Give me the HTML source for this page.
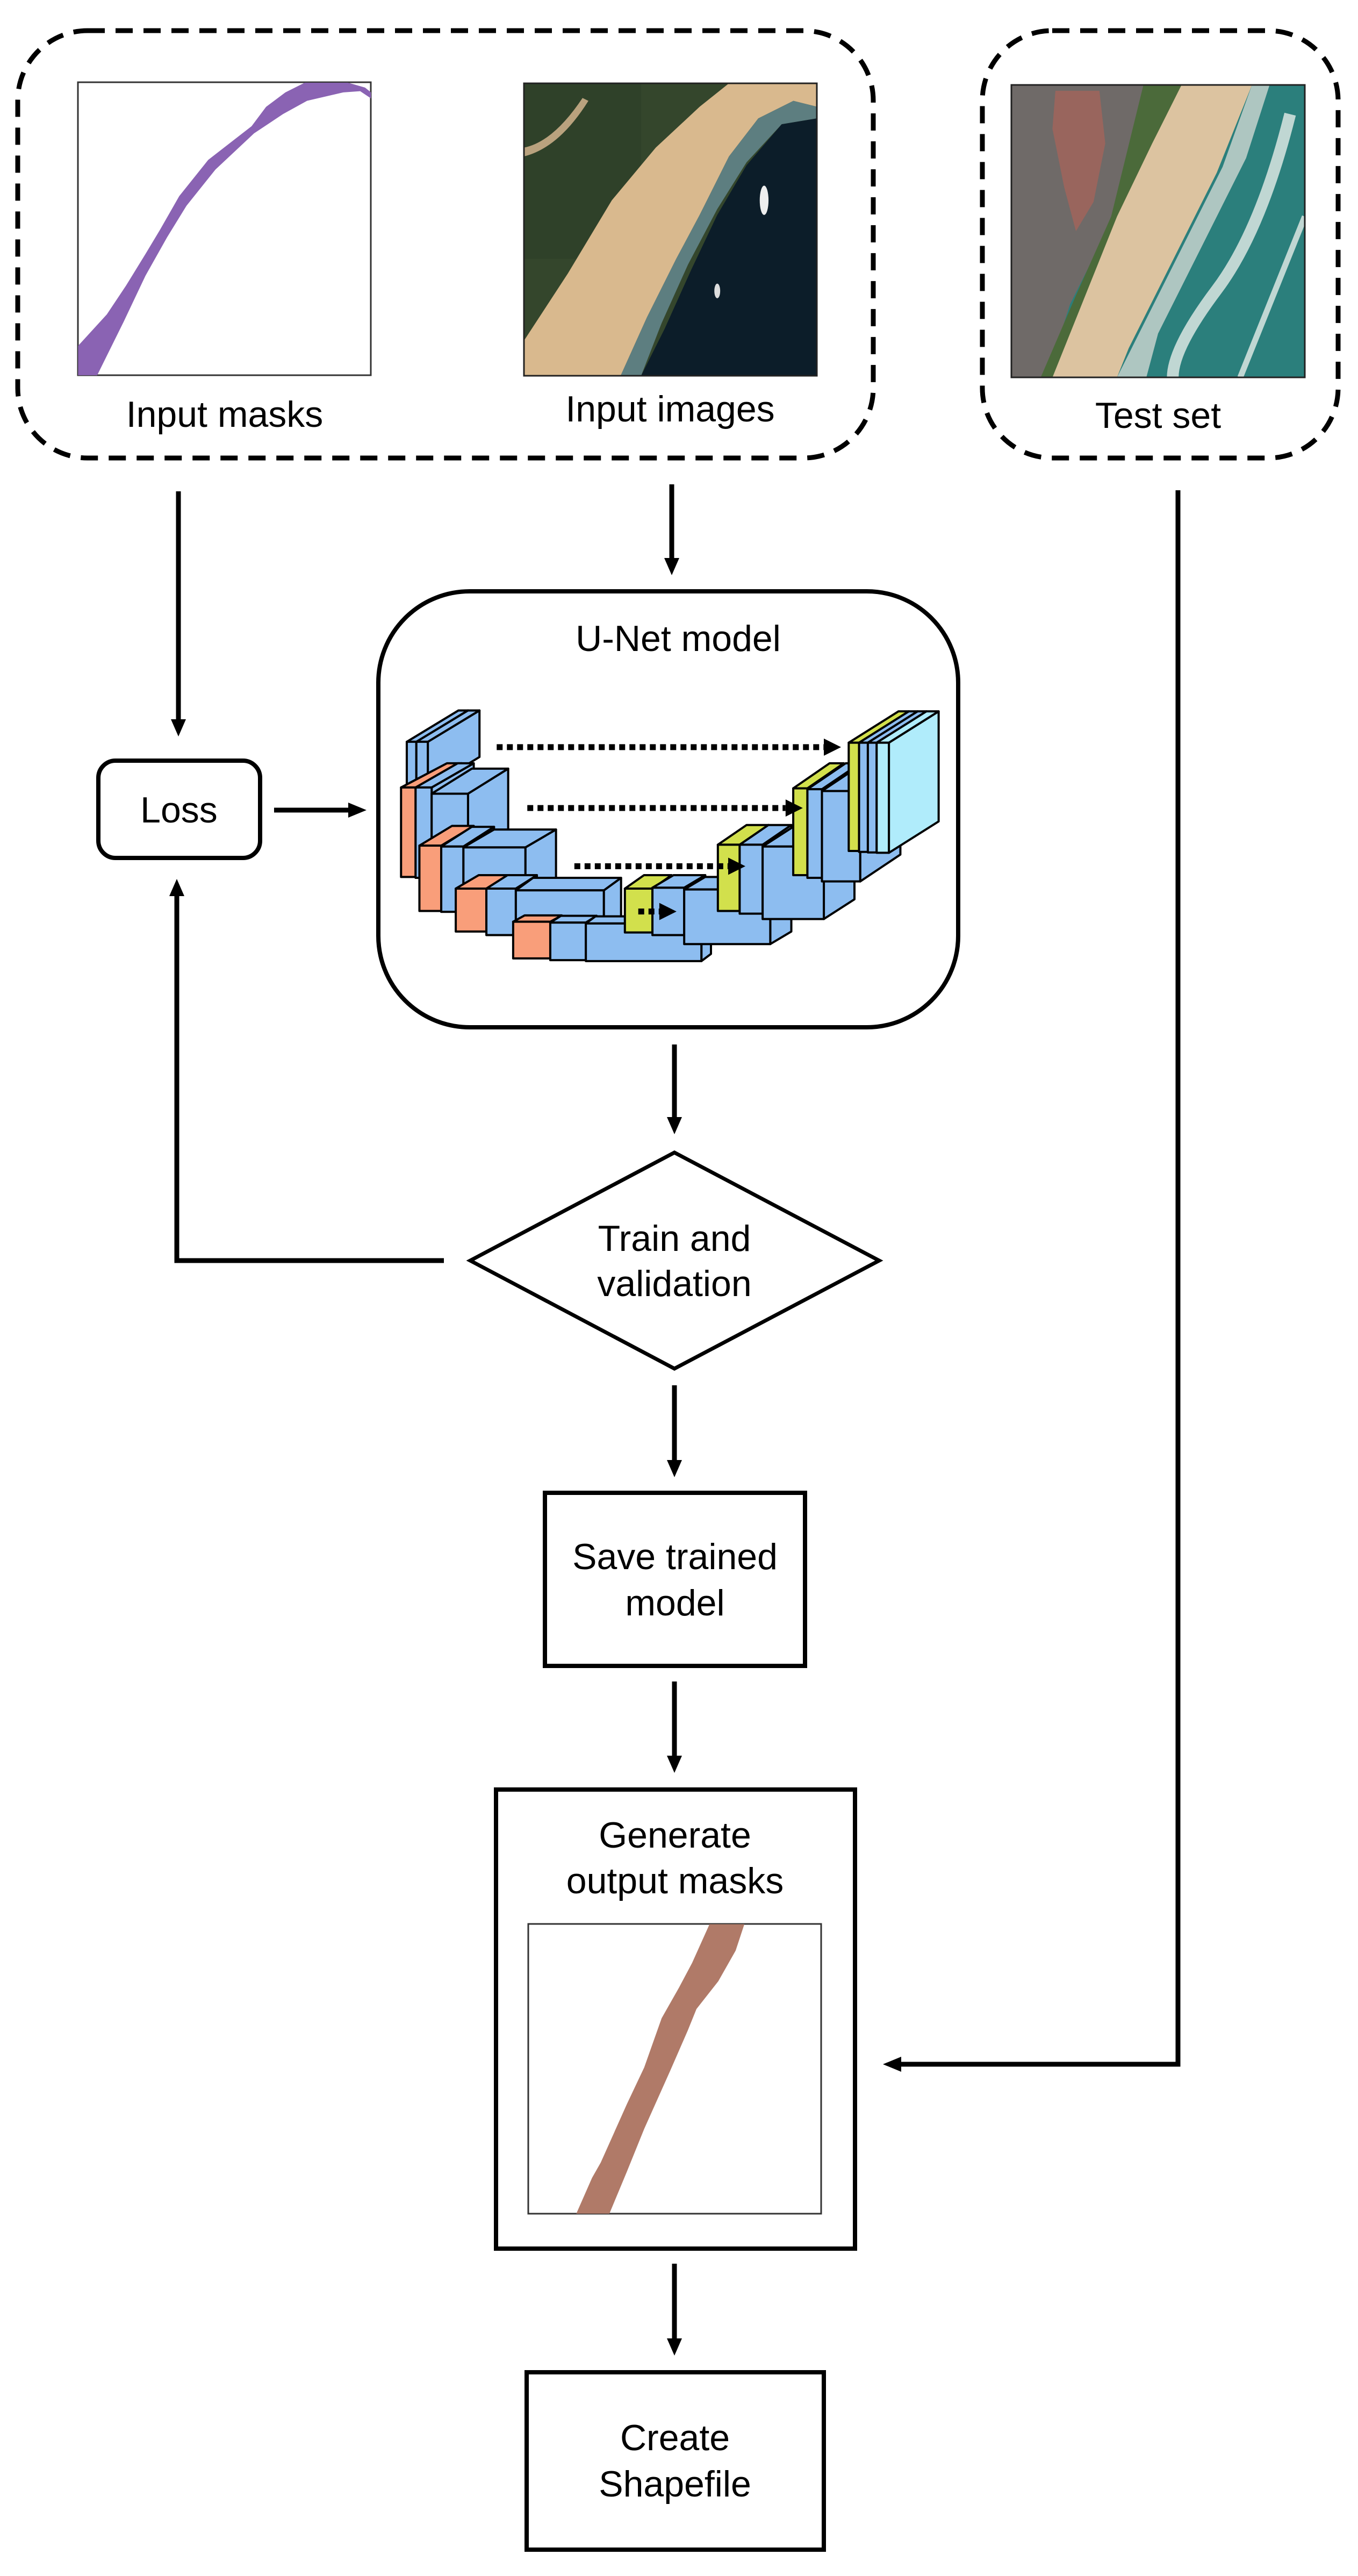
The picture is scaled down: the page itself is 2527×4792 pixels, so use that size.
<!DOCTYPE html>
<html><head><meta charset="utf-8"><style>
html,body{margin:0;padding:0;background:#fff}
svg{display:block}
text{font-family:"Liberation Sans",sans-serif;font-size:68px;fill:#000;text-anchor:middle}
</style></head><body>
<svg id="s" width="2527" height="4792" viewBox="0 0 2527 4792" xmlns="http://www.w3.org/2000/svg">
<defs>
<marker id="ah" markerWidth="10" markerHeight="10" refX="0" refY="5" orient="auto" markerUnits="userSpaceOnUse" viewBox="0 0 10 10"></marker>
</defs>
<!-- dashed groups -->
<rect x="33" y="57" width="1592" height="795" rx="130" fill="none" stroke="#000" stroke-width="9" stroke-dasharray="32 20"/>
<rect x="1828" y="57" width="662" height="795" rx="130" fill="none" stroke="#000" stroke-width="9" stroke-dasharray="32 20"/>

<!-- input mask -->
<rect x="145" y="153" width="545" height="545" fill="#fff" stroke="#333" stroke-width="3"/>
<g transform="translate(100,100) scale(0.449)">
<polygon fill="#8a63b3" points="101,1210 220,1080 300,960 380,830 440,730 520,590 640,440 820,300 880,220 960,160 1040,120 1220,120 1290,140 1315,160 1315,185 1270,155 1200,160 1050,195 950,250 830,330 670,480 550,630 470,760 380,920 290,1110 180,1332 101,1332"/>
</g>

<!-- input image -->
<svg x="975" y="155" width="545" height="544" viewBox="0 0 100 100" preserveAspectRatio="none">
<rect width="100" height="100" fill="#34462c"/>
<rect x="0" y="0" width="40" height="60" fill="#2e3f28" opacity=".7"/>
<path d="M0,22 Q10,20 20,5 L22,6 Q12,22 0,25Z" fill="#b9a27e"/>
<polygon fill="#d9b98e" points="70,0 100,0 100,8 92,6 80,12 70,25 60,45 52,60 42,80 33,100 0,100 0,88 15,65 30,40 45,22 60,8"/>
<polygon fill="#5d7e80" points="100,8 92,6 80,12 70,25 60,45 52,60 42,80 33,100 40,100 47,82 56,62 66,43 76,27 88,14 100,12"/>
<polygon fill="#0c1d29" points="100,12 88,14 76,28 66,45 57,64 48,84 40,100 100,100"/>
<ellipse cx="82" cy="40" rx="1.5" ry="5" fill="#eee"/>
<ellipse cx="66" cy="71" rx="1" ry="2.5" fill="#ddd"/>
</svg>
<rect x="975" y="155" width="545" height="544" fill="none" stroke="#222" stroke-width="3"/>

<!-- test image -->
<svg x="1882" y="158" width="546" height="544" viewBox="0 0 100 100" preserveAspectRatio="none">
<rect width="100" height="100" fill="#2b7f7c"/>
<polygon fill="#6f6a68" points="0,0 45,0 40,30 30,55 20,75 12,100 0,100"/>
<polygon fill="#a4645a" opacity=".8" points="15,2 30,2 32,20 28,40 22,50 18,35 14,15"/>
<polygon fill="#4b6a3a" points="45,0 58,0 45,35 32,70 20,100 10,100 22,72 34,45"/>
<polygon fill="#dcc3a0" points="58,0 82,0 70,30 55,60 40,90 36,100 14,100 24,75 36,45 48,20"/>
<polygon fill="#cfd8d2" opacity=".8" points="82,0 88,0 80,25 65,55 50,85 46,100 36,100 42,88 56,60 72,28"/>
<path d="M95,10 Q85,50 70,70 T55,100" stroke="#e6eee9" stroke-width="4" fill="none" opacity=".8"/>
<path d="M100,45 Q88,75 78,100" stroke="#e6eee9" stroke-width="2" fill="none" opacity=".8"/>
</svg>
<rect x="1882" y="158" width="546" height="544" fill="none" stroke="#222" stroke-width="3"/>

<text x="418" y="794">Input masks</text>
<text x="1247" y="784">Input images</text>
<text x="2155" y="796">Test set</text>

<g stroke="#000" stroke-width="9" fill="none">
<line x1="332" y1="914" x2="332" y2="1340"/>
<line x1="1250" y1="901" x2="1250" y2="1040"/>
<line x1="510" y1="1507" x2="650" y2="1507"/>
<line x1="1255" y1="1943" x2="1255" y2="2080"/>
<polyline points="826,2345 329,2345 329,1665"/>
<line x1="1255" y1="2577" x2="1255" y2="2718"/>
<line x1="1255" y1="3128" x2="1255" y2="3268"/>
<polyline points="2192,912 2192,3840 1675,3840"/>
<line x1="1255" y1="4211" x2="1255" y2="4352"/>
</g>
<g fill="#000">
<polygon points="318,1338 346,1338 332,1370"/>
<polygon points="1236,1038 1264,1038 1250,1070"/>
<polygon points="648,1493 648,1521 682,1507"/>
<polygon points="1241,2078 1269,2078 1255,2110"/>
<polygon points="315,1667 343,1667 329,1635"/>
<polygon points="1241,2716 1269,2716 1255,2748"/>
<polygon points="1241,3266 1269,3266 1255,3298"/>
<polygon points="1677,3826 1677,3854 1643,3840"/>
<polygon points="1241,4350 1269,4350 1255,4382"/>
</g>

<!-- Loss -->
<rect x="183" y="1415" width="301" height="181" rx="32" fill="#fff" stroke="#000" stroke-width="8"/>
<text x="333" y="1530">Loss</text>

<!-- UNet box -->
<rect x="704" y="1100" width="1079" height="811" rx="170" fill="#fff" stroke="#000" stroke-width="8"/>
<text x="1262" y="1211">U-Net model</text>
<g id="unet" stroke="#000" stroke-width="4" stroke-linejoin="round"></g>

<!-- diamond -->
<polygon points="1255,2144 1636,2345 1255,2546 875,2345" fill="#fff" stroke="#000" stroke-width="7"/>
<text x="1255" y="2327">Train and</text>
<text x="1255" y="2411">validation</text>

<!-- save -->
<rect x="1014" y="2777" width="484" height="322" fill="#fff" stroke="#000" stroke-width="8"/>
<text x="1256" y="2919">Save trained</text>
<text x="1256" y="3005">model</text>

<!-- generate -->
<rect x="923" y="3329" width="668" height="854" fill="#fff" stroke="#000" stroke-width="8"/>
<text x="1256" y="3437">Generate</text>
<text x="1256" y="3522">output masks</text>
<rect x="983" y="3579" width="545" height="539" fill="#fff" stroke="#333" stroke-width="3"/>
<g transform="translate(0,3000) scale(1.62,1.143)">
<polygon fill="#b07a68" points="662,978 680,920 690,895 720,800 740,740 760,660 780,610 795,570 815,507 855,507 845,550 825,600 800,645 790,680 770,745 740,840 720,910 700,978"/>
</g>

<!-- create -->
<rect x="980" y="4413" width="553" height="330" fill="#fff" stroke="#000" stroke-width="8"/>
<text x="1256" y="4558">Create</text>
<text x="1256" y="4644">Shapefile</text>
</svg>
<script>
(function(){
var g=document.getElementById('unet');
function X(z){return 700+z*0.712}
function Y(z){return 1300+z*0.333}
var B='#8dbdf0',O='#f99e7a',Yl='#d2e04c',L='#b0ecfb';
function blk(x1,x2,y1,y2,dx,dy,c){
 var a=X(x1),b=X(x2),t=Y(y1),u=Y(y2),ddx=dx*0.712,ddy=dy*0.333;
 var s='';
 s+='<polygon fill="'+c+'" points="'+b+','+t+' '+(b+ddx)+','+(t+ddy)+' '+(b+ddx)+','+(u+ddy)+' '+b+','+u+'"/>';
 s+='<polygon fill="'+c+'" points="'+a+','+t+' '+b+','+t+' '+(b+ddx)+','+(t+ddy)+' '+(a+ddx)+','+(t+ddy)+'"/>';
 s+='<rect fill="'+c+'" x="'+a+'" y="'+t+'" width="'+(b-a)+'" height="'+(u-t)+'"/>';
 g.insertAdjacentHTML('beforeend',s);
}
var L1=[[80,105,240,500,135,-175,B],[105,135,240,500,135,-175,B]];
var L2=[[65,103,495,995,120,-135,O],[103,145,495,1000,110,-135,B],[145,240,530,1000,105,-140,B]];
var L3=[[113,170,820,1185,85,-110,O],[170,228,825,1190,80,-110,B],[228,390,830,1200,80,-100,B]];
var L4=[[208,288,1060,1300,60,-75,O],[288,365,1060,1320,55,-75,B],[365,595,1070,1340,45,-70,B]];
var L5=[[358,455,1245,1450,30,-35,O],[455,548,1250,1460,28,-38,B],[548,850,1255,1465,25,-40,B]];
var R5=[[650,722,1060,1305,50,-75,Yl],[722,805,1055,1320,55,-70,B],[805,1030,1065,1370,55,-70,B]];
var R4=[[893,950,815,1185,75,-110,Yl],[950,1010,815,1200,75,-110,B],[1010,1170,825,1230,80,-110,B]];
var R3=[[1090,1127,500,985,95,-140,Yl],[1127,1165,505,1000,100,-145,B],[1165,1265,515,1020,105,-150,B]];
var R2=[[1235,1262,245,850,130,-175,Yl],[1262,1285,245,855,130,-175,B],[1285,1308,245,858,130,-175,B],[1308,1340,245,860,130,-175,L]];
[L1,L2,L3,L4,L5,R5,R4,R3,R2].forEach(function(l){l.forEach(function(b){blk.apply(null,b)})});
var ar=[[315,270,1170],[395,610,1070],[518,935,920],[685,1188,740]];
var s='';
ar.forEach(function(a){
 var y=Y(a[1]);
 s+='<line x1="'+X(a[0])+'" y1="'+y+'" x2="'+X(a[2])+'" y2="'+y+'" stroke="#000" stroke-width="11" stroke-dasharray="11 8"/>';
 s+='<polygon fill="#000" stroke="none" points="'+X(a[2])+','+(y-16)+' '+(X(a[2])+32)+','+y+' '+X(a[2])+','+(y+16)+'"/>';
});
g.insertAdjacentHTML('beforeend',s);
})();
</script>
</body></html>
